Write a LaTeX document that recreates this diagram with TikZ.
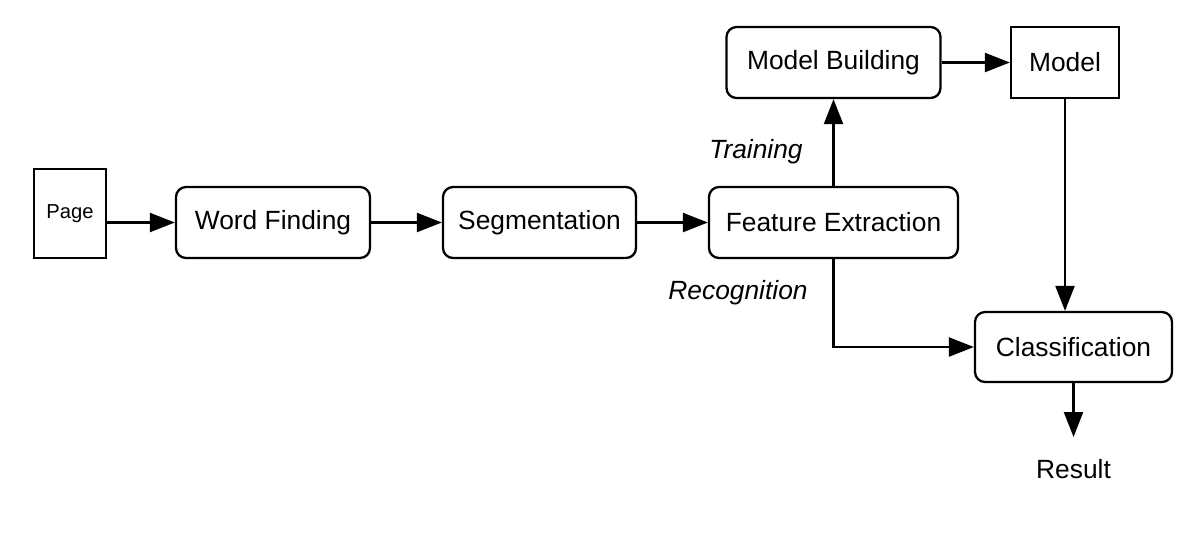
\documentclass[tikz,border=0pt]{standalone}
\usepackage{fontspec}
\setmainfont{Liberation Sans}
\usepackage{tikz}
\usetikzlibrary{arrows.meta,calc}
\tikzstyle{tsText} = [ 
    text=black, 
    font=\fontsize{15}{18}\selectfont
]
\tikzstyle{tsRoundBox} = [ 
    rectangle,
    tsText,
    rounded corners=0.2cm,
    draw=black,
    line width=1.3pt,
    minimum height=1.42cm]
\tikzstyle{tsSquareBox} = [ 
    rectangle,
    tsText,
    draw=black,
    line width=1.3pt]
\tikzstyle{tsArrow} = [ 
    line width=1.3pt,
    -{Triangle[length=0.5cm,width=0.38cm]}]
\tikzstyle{tsLabel} = [ 
    tsText,
    font=\fontsize{15}{18}\selectfont\itshape]

\begin{document}
\begin{tikzpicture}
        
        \useasboundingbox (0,0) rectangle (24.08,-10.84);
        
        \node[  tsSquareBox, 
                minimum width=1.44cm,
                minimum height=1.78cm,
                font=\fontsize{11.5}{14}\selectfont] (page) at (1.4,-4.27) {Page};
        \node[  tsRoundBox, minimum width=3.88cm] (wordFinding) at (5.46,-4.45) {Word Finding};
        \node[  tsRoundBox, minimum width=3.86cm] (segmentation) at (10.79,-4.45) {Segmentation};
        \node[  tsRoundBox, minimum width=4.98cm] (featExtr) at (16.67,-4.45) {Feature Extraction};
        \node[  tsRoundBox, minimum width=4.28cm] (modelBuild) at (16.67,-1.25) {Model Building};
        \node[  tsSquareBox, 
                minimum width=2.16cm,
                minimum height=1.42cm] (model) at (21.3,-1.25) {Model};
        \node[  tsRoundBox, 
                minimum width=3.94cm,
                minimum height=1.4cm] (classif) at (21.47,-6.94) {Classification};
        \node[  tsText, anchor=north, inner sep=0.45cm] (result) at (21.47,-8.74) {Result};
        
        \node[tsLabel] (lblTrain) at (15.12,-3.04) {Training};
        \node[tsLabel] (lblRecog) at (14.76,-5.86) {Recognition};
        
     	\draw[tsArrow] (page.east |- wordFinding.west) -- (wordFinding.west);
     	\draw[tsArrow] (wordFinding.east) -- (segmentation.west);
     	\draw[tsArrow] (segmentation.east) -- (featExtr.west);
     	\draw[tsArrow] (featExtr.north) -- (modelBuild.south);
     	\draw[tsArrow] (modelBuild.east) -- (model.west);
     	\draw[tsArrow] (model.south) -- (model.south |- classif.north);
     	\draw[tsArrow] (featExtr.south) |- (classif.west);
     	\draw[tsArrow] (classif.south) -- (result.north);
   	 	
       \end{tikzpicture}
\end{document}
